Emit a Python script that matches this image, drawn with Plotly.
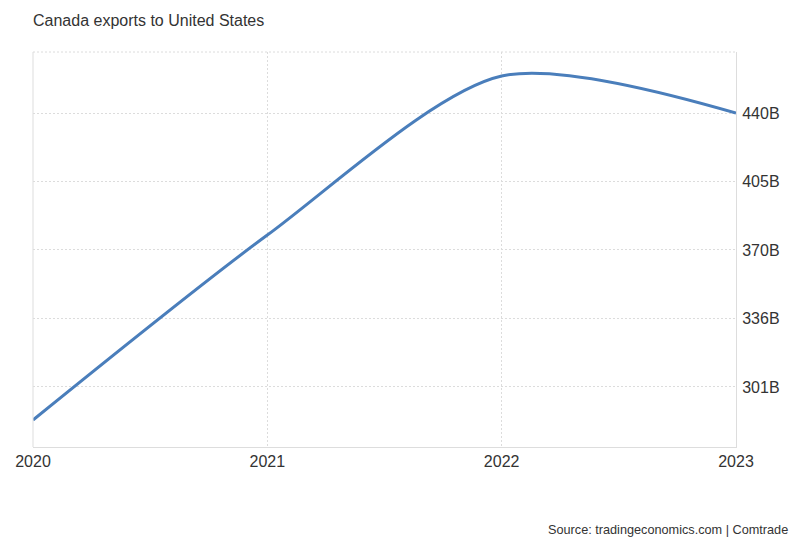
import plotly.graph_objects as go

years = [2020, 2021, 2022, 2023]
exports_b = [284.2, 378.1, 458.8, 440.0]
y_tick_vals = [301.0, 335.75, 370.5, 405.25, 440.0]
y_tick_text = ["301B", "336B", "370B", "405B", "440B"]
x_tick_vals = [2020, 2021, 2022, 2023]
x_tick_text = ["2020", "2021", "2022", "2023"]

W, H = 786, 532
L, T, PW, PH = 25, 44, 703, 395

fig = go.Figure()
fig.add_trace(go.Scatter(
    x=years, y=exports_b, mode="lines",
    line=dict(color="#4a7ebb", width=3, shape="spline", smoothing=0.8),
    hoverinfo="skip",
))

fig.update_layout(
    width=W, height=H,
    margin=dict(l=L, r=W - L - PW, t=T, b=H - T - PH, autoexpand=False),
    paper_bgcolor="white", plot_bgcolor="white",
    font=dict(family="Liberation Sans, Arial, sans-serif", color="#333333"),
    showlegend=False,
    title=dict(text="Canada exports to United States", x=L / W, xref="container", xanchor="left",
               y=1 - 12 / H, yref="container", yanchor="middle",
               font=dict(size=16, color="#333333")),
    xaxis=dict(range=[2020, 2023], tickvals=x_tick_vals, ticktext=x_tick_text,
               showgrid=True, gridcolor="#dcdcdc", griddash="2px,2px", gridwidth=1,
               showline=True, linecolor="#dddddd", linewidth=1, mirror=False,
               zeroline=False, ticks="", tickfont=dict(size=16, color="#333333"),
               ticklabelstandoff=0, fixedrange=True),
    yaxis=dict(range=[270.5, 471.0], tickvals=y_tick_vals, ticktext=y_tick_text,
               side="right", showgrid=True, gridcolor="#dcdcdc", griddash="2px,2px", gridwidth=1,
               showline=True, linecolor="#dddddd", linewidth=1,
               zeroline=False, ticks="", tickfont=dict(size=16, color="#333333"),
               ticklabelstandoff=2, fixedrange=True),
)

fig.add_shape(type="line", xref="paper", yref="paper", x0=0, x1=0, y0=0, y1=1,
              line=dict(color="#dddddd", width=1))
fig.add_shape(type="line", xref="paper", yref="paper", x0=0, x1=1, y0=1, y1=1,
              line=dict(color="#dcdcdc", width=1, dash="2px,2px"))

fig.add_annotation(text="Source: tradingeconomics.com | Comtrade", xref="paper", yref="paper",
                   x=(782 - L) / PW, y=-(522 - T - PH) / PH, xanchor="right", yanchor="middle",
                   showarrow=False, font=dict(size=12.7, color="#333333"))

fig.write_html("out.html")
